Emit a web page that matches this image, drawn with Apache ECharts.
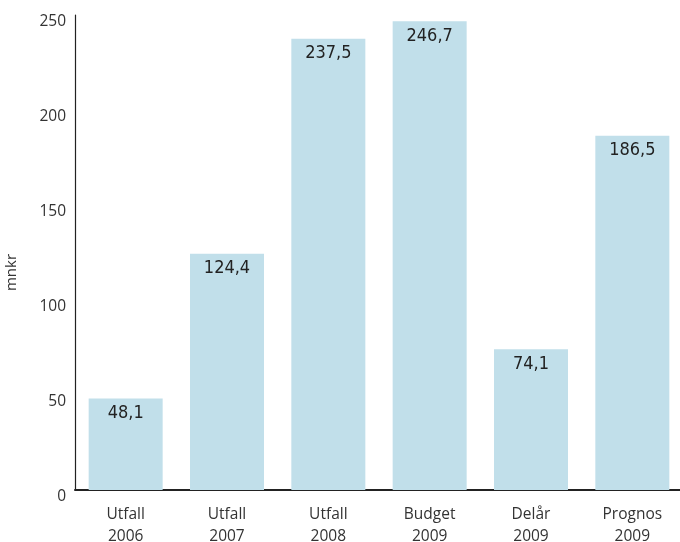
<!DOCTYPE html>
<html>
<head>
<meta charset="utf-8">
<script src="https://cdn.jsdelivr.net/npm/echarts@6/dist/echarts.min.js"></script>
<style>html,body{margin:0;padding:0;background:#fff}#c{width:680px;height:542px}</style>
</head>
<body>
<div id="c"></div>
<script>
const categories = ['Utfall\n2006', 'Utfall\n2007', 'Utfall\n2008', 'Budget\n2009', 'Delår\n2009', 'Prognos\n2009'];
const values = [48.1, 124.4, 237.5, 246.7, 74.1, 186.5];
const yTicks = [0, 50, 100, 150, 200, 250];

const chart = echarts.init(document.getElementById('c'));
chart.setOption({
  animation: false,
  grid: { left: 75, top: 15, width: 608, height: 475, containLabel: false, outerBoundsMode: 'none' },
  xAxis: {
    type: 'category',
    data: categories,
    axisLine: { lineStyle: { color: '#222', width: 2 } },
    axisTick: { show: false },
    axisLabel: { color: '#333', fontFamily: 'Open Sans', fontSize: 15.5, margin: 14, lineHeight: 22 }
  },
  yAxis: {
    type: 'value',
    min: yTicks[0],
    max: yTicks[yTicks.length - 1],
    interval: 50,
    name: 'mnkr',
    nameLocation: 'middle',
    nameGap: 56,
    nameTextStyle: { color: '#333', fontFamily: 'Open Sans', fontSize: 15, padding: [0, 40, 0, 0] },
    axisLine: { show: true, lineStyle: { color: '#222', width: 1.2 } },
    axisTick: { show: false },
    splitLine: { show: false },
    axisLabel: { color: '#333', fontFamily: 'Open Sans', fontSize: 15.5, margin: 9, verticalAlign: 'top', lineHeight: 14 }
  },
  series: [{
    type: 'bar',
    data: values,
    barWidth: 74,
    itemStyle: { color: '#c1dfea' },
    label: {
      show: true,
      position: 'insideTop',
      distance: 6,
      color: '#222',
      fontFamily: 'Liberation Sans Narrow, DejaVu Sans Condensed, sans-serif',
      fontSize: 18,
      formatter: p => String(p.value).replace('.', ',')
    }
  }]
});
</script>
</body>
</html>
